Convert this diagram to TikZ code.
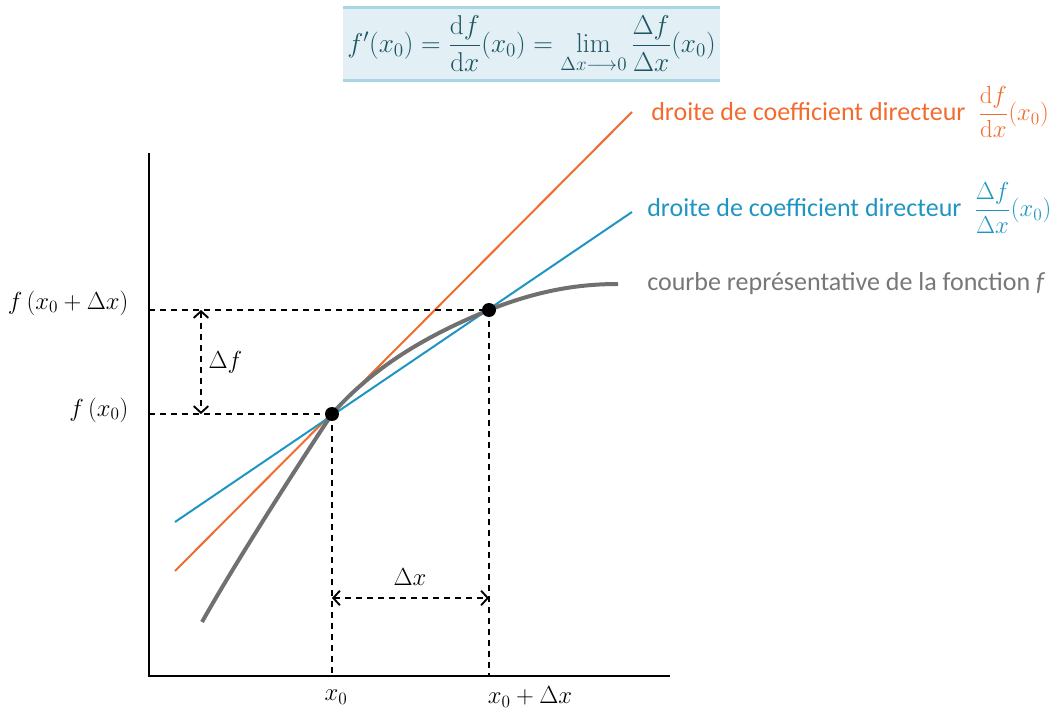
\RequirePackage{fix-cm}
\documentclass[tikz,border=0pt]{standalone}
\usepackage[no-math]{fontspec}
\setmainfont{Carlito}
\usepackage{amsmath}
\usetikzlibrary{arrows.meta}
\definecolor{orangeL}{HTML}{F26B2E}
\definecolor{blueL}{HTML}{1F95C3}
\definecolor{grayC}{HTML}{707070}
\definecolor{grayT}{HTML}{777777}
\definecolor{boxfill}{HTML}{E2F0F6}
\definecolor{boxline}{HTML}{A9D6E5}
\definecolor{formulaC}{HTML}{1E5562}
\begin{document}
\begin{tikzpicture}[x=0.75pt,y=-0.75pt,
  axis/.style={line width=1.5pt,black},
  guide/.style={line width=1.1pt,black,dash pattern=on 4.5pt off 3.75pt},
  dimarrow/.style={guide,{Straight Barb[length=5pt,width=11pt,line width=1.4pt]}-{Straight Barb[length=5pt,width=11pt,line width=1.4pt]}},
  tangentO/.style={line width=1.5pt,orangeL},
  tangentB/.style={line width=1.5pt,blueL},
  curveG/.style={line width=3pt,grayC},
  dot/.style={circle,fill=black,inner sep=0pt,minimum size=10.5pt},
  mlabel/.style={font=\fontsize{18.5}{22}\selectfont,inner sep=1pt},
  tlabel/.style={font=\fontsize{19.5}{24}\selectfont,anchor=west,inner sep=0pt}]
\useasboundingbox (0,0) rectangle (1051,713);

% formula box
\node[fill=boxfill,minimum width=282.75pt,minimum height=54pt,inner sep=0pt,
  text=formulaC,font=\fontsize{20.4}{24}\selectfont] (formula) at (531.5,44)
  {$f'(x_0)=\dfrac{\mathrm{d}f}{\mathrm{d}x}(x_0)=\lim\limits_{\Delta x\longrightarrow 0}\dfrac{\Delta f}{\Delta x}(x_0)$};
\draw[boxline,line width=2pt] (formula.north west) -- (formula.north east);
\draw[boxline,line width=2pt] (formula.south west) -- (formula.south east);

% coordinates
\coordinate (O) at (149,676);
\coordinate (Ytop) at (149,153);
\coordinate (Xend) at (670,676);
\coordinate (P0c) at (332,414);
\coordinate (P1c) at (489,310);
\coordinate (O1) at (175,571);
\coordinate (O2) at (632,112);
\coordinate (B1) at (175,522);
\coordinate (B2) at (632,212);
\coordinate (G1) at (202,622);
\coordinate (G2) at (618,284);
\coordinate (DfA) at (201,310);
\coordinate (DfB) at (201,414);
\coordinate (DxA) at (332,598);
\coordinate (DxB) at (489,598);

% tangents
\draw[tangentO] (O1) -- (O2);
\draw[tangentB] (B1) -- (B2);

% curve
\draw[curveG] (G1) .. controls (238,558) and (304,456) .. (P0c)
  .. controls (382,357) and (446,328) .. (P1c)
  .. controls (539,290) and (580,284) .. (G2);

% dashed guides
\draw[guide] (O |- P1c) -- (P1c);
\draw[guide] (O |- P0c) -- (P0c);
\draw[guide] (P0c) -- (P0c |- O);
\draw[guide] (P1c) -- (P1c |- O);
\draw[dimarrow] (DfA) -- (DfB);
\draw[dimarrow] (DxA) -- (DxB);

% axes
\draw[axis] (Ytop) -- (O) -- (Xend);

% points
\node[dot] (P0) at (P0c) {};
\node[dot] (P1) at (P1c) {};

% labels
\node[mlabel,anchor=east] (lf1) at (130,303) {$f\,(x_0+\Delta x)$};
\node[mlabel,anchor=east] (lf0) at (130,410) {$f\,(x_0)$};
\node[mlabel,anchor=west] (ldf) at (207,362) {$\Delta f$};
\node[mlabel] (ldx) at (410,577) {$\Delta x$};
\node[mlabel] (lx0) at (336,697) {$x_0$};
\node[mlabel] (lx1) at (530,697) {$x_0+\Delta x$};

\node[tlabel,text=orangeL] (lo) at (651,112) {droite de coefficient directeur\ {\fontsize{18.5}{22}\selectfont$\;\dfrac{\mathrm{d}f}{\mathrm{d}x}(x_0)$}};
\node[tlabel,text=blueL] (lb) at (647,208) {droite de coefficient directeur\ {\fontsize{18.5}{22}\selectfont$\;\dfrac{\Delta f}{\Delta x}(x_0)$}};
\node[tlabel,text=grayT] (lg) at (647,284) {courbe représentative de la fonction \textit{f}};
\end{tikzpicture}
\end{document}
